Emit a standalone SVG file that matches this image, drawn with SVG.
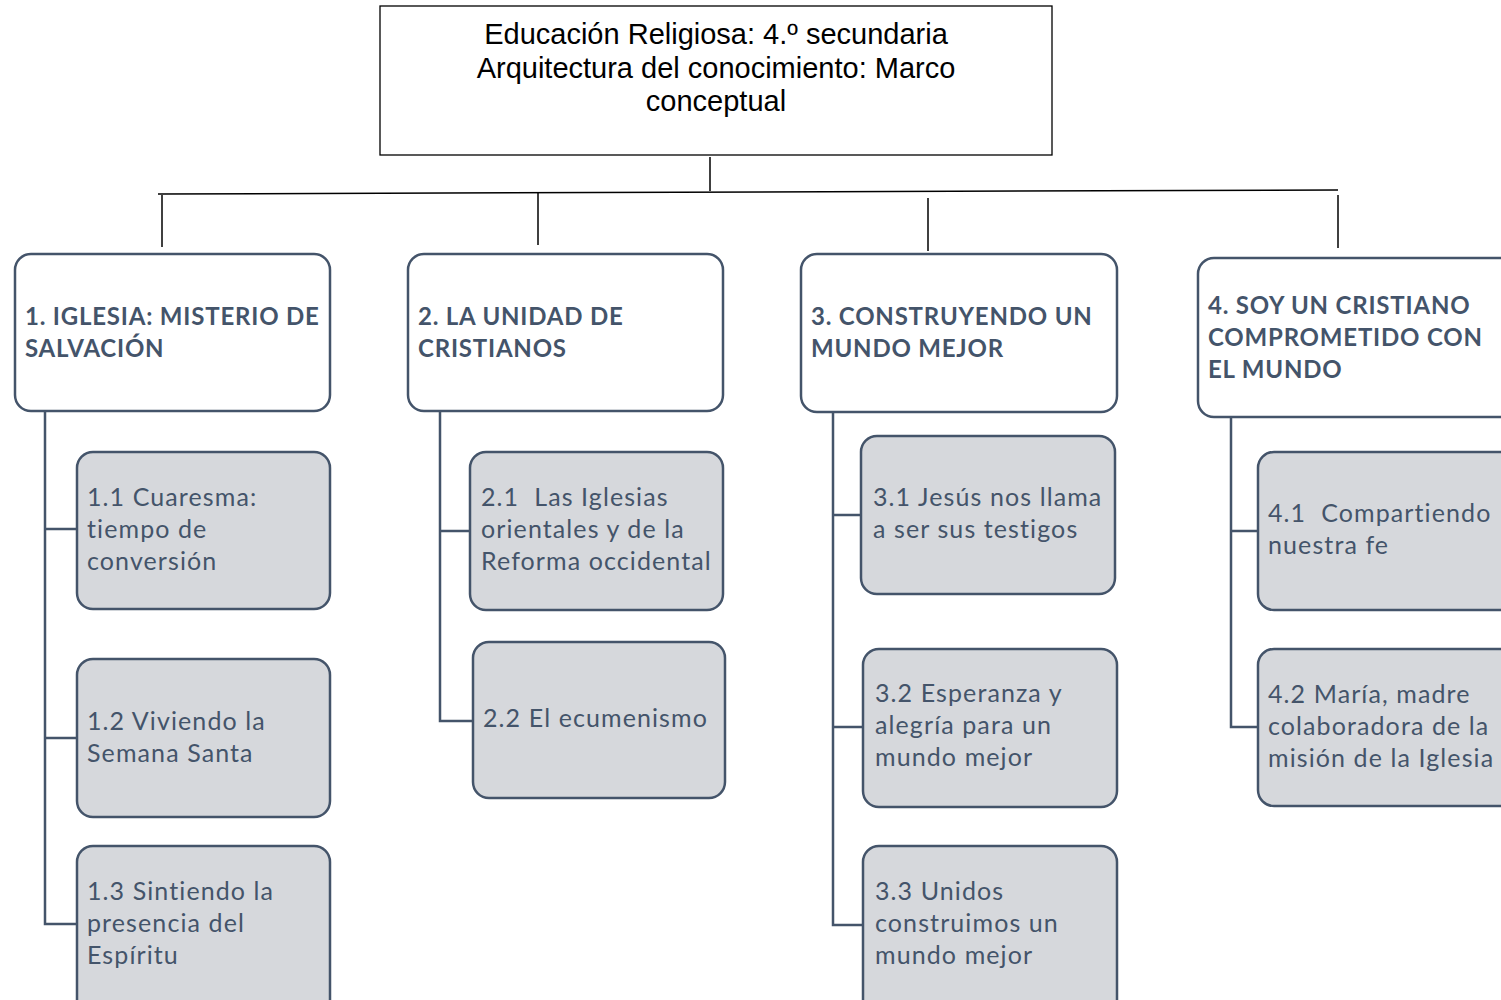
<svg xmlns="http://www.w3.org/2000/svg" width="1501" height="1000" viewBox="0 0 1501 1000">
<style>
.title{font-family:"Liberation Sans",Arial,sans-serif;font-size:29px;fill:#000;text-anchor:middle}
.hbox{fill:#fff;stroke:#44546A;stroke-width:2.5}
.sbox{fill:#D6D8DC;stroke:#44546A;stroke-width:2.5}
.htxt{font-family:Lato,"Open Sans",sans-serif;font-weight:bold;font-size:24px;letter-spacing:0.8px;fill:#44546A}
.stxt{font-family:Lato,"Open Sans",sans-serif;font-size:25px;letter-spacing:1.1px;fill:#44546A;white-space:pre}
.top{stroke:#000;stroke-width:1.5;fill:none}
.tree{stroke:#44546A;stroke-width:2.5;fill:none}
</style>
<rect width="1501" height="1000" fill="#fff"/>
<g id="connectors">
<line class="top" x1="710" y1="157" x2="710" y2="191"/>
<line class="top" x1="158" y1="194" x2="1338" y2="190"/>
<line class="top" x1="162" y1="195" x2="162" y2="247"/>
<line class="top" x1="538" y1="193" x2="538" y2="245"/>
<line class="top" x1="928" y1="198" x2="928" y2="251"/>
<line class="top" x1="1338" y1="195" x2="1338" y2="248"/>
<path class="tree" d="M45 411V924H77M45 529H77M45 738H77"/>
<path class="tree" d="M440 411V721H473M440 531H470"/>
<path class="tree" d="M833 412V925H863M833 515H861M833 727H863"/>
<path class="tree" d="M1231 417V727H1258M1231 531H1258"/>
</g>
<g id="root">
<rect x="380" y="6" width="672" height="149" fill="#fff" stroke="#000" stroke-width="1.3"/>
<text class="title" x="716" y="44">Educación Religiosa: 4.º secundaria</text>
<text class="title" x="716" y="78">Arquitectura del conocimiento: Marco</text>
<text class="title" x="716" y="111">conceptual</text>
</g>
<g id="h1">
<rect class="hbox" x="15" y="254" width="315" height="157" rx="16"/>
<text class="htxt" x="25" y="325">1. IGLESIA: MISTERIO DE</text>
<text class="htxt" x="25" y="357">SALVACIÓN</text>
</g>
<g id="h2">
<rect class="hbox" x="408" y="254" width="315" height="157" rx="16"/>
<text class="htxt" x="418" y="325">2. LA UNIDAD DE</text>
<text class="htxt" x="418" y="357">CRISTIANOS</text>
</g>
<g id="h3">
<rect class="hbox" x="801" y="254" width="316" height="158" rx="16"/>
<text class="htxt" x="811" y="325">3. CONSTRUYENDO UN</text>
<text class="htxt" x="811" y="357">MUNDO MEJOR</text>
</g>
<g id="h4">
<rect class="hbox" x="1198" y="258" width="320" height="159" rx="16"/>
<text class="htxt" x="1208" y="314">4. SOY UN CRISTIANO</text>
<text class="htxt" x="1208" y="346">COMPROMETIDO CON</text>
<text class="htxt" x="1208" y="378">EL MUNDO</text>
</g>
<g id="n1-1">
<rect class="sbox" x="77" y="452" width="253" height="157" rx="16"/>
<text class="stxt" x="87" y="506">1.1 Cuaresma:</text>
<text class="stxt" x="87" y="538">tiempo de</text>
<text class="stxt" x="87" y="570">conversión</text>
</g>
<g id="n1-2">
<rect class="sbox" x="77" y="659" width="253" height="158" rx="16"/>
<text class="stxt" x="87" y="730">1.2 Viviendo la</text>
<text class="stxt" x="87" y="762">Semana Santa</text>
</g>
<g id="n1-3">
<rect class="sbox" x="77" y="846" width="253" height="170" rx="16"/>
<text class="stxt" x="87" y="900">1.3 Sintiendo la</text>
<text class="stxt" x="87" y="932">presencia del</text>
<text class="stxt" x="87" y="964">Espíritu</text>
</g>
<g id="n2-1">
<rect class="sbox" x="470" y="452" width="253" height="158" rx="16"/>
<text class="stxt" x="481" y="506">2.1  Las Iglesias</text>
<text class="stxt" x="481" y="538">orientales y de la</text>
<text class="stxt" x="481" y="570">Reforma occidental</text>
</g>
<g id="n2-2">
<rect class="sbox" x="473" y="642" width="252" height="156" rx="16"/>
<text class="stxt" x="483" y="727">2.2 El ecumenismo</text>
</g>
<g id="n3-1">
<rect class="sbox" x="861" y="436" width="254" height="158" rx="16"/>
<text class="stxt" x="873" y="506">3.1 Jesús nos llama</text>
<text class="stxt" x="873" y="538">a ser sus testigos</text>
</g>
<g id="n3-2">
<rect class="sbox" x="863" y="649" width="254" height="158" rx="16"/>
<text class="stxt" x="875" y="702">3.2 Esperanza y</text>
<text class="stxt" x="875" y="734">alegría para un</text>
<text class="stxt" x="875" y="766">mundo mejor</text>
</g>
<g id="n3-3">
<rect class="sbox" x="863" y="846" width="254" height="170" rx="16"/>
<text class="stxt" x="875" y="900">3.3 Unidos</text>
<text class="stxt" x="875" y="932">construimos un</text>
<text class="stxt" x="875" y="964">mundo mejor</text>
</g>
<g id="n4-1">
<rect class="sbox" x="1258" y="452" width="260" height="158" rx="16"/>
<text class="stxt" x="1268" y="522">4.1  Compartiendo</text>
<text class="stxt" x="1268" y="554">nuestra fe</text>
</g>
<g id="n4-2">
<rect class="sbox" x="1258" y="649" width="260" height="157" rx="16"/>
<text class="stxt" x="1268" y="703">4.2 María, madre</text>
<text class="stxt" x="1268" y="735">colaboradora de la</text>
<text class="stxt" x="1268" y="767">misión de la Iglesia</text>
</g>
</svg>
